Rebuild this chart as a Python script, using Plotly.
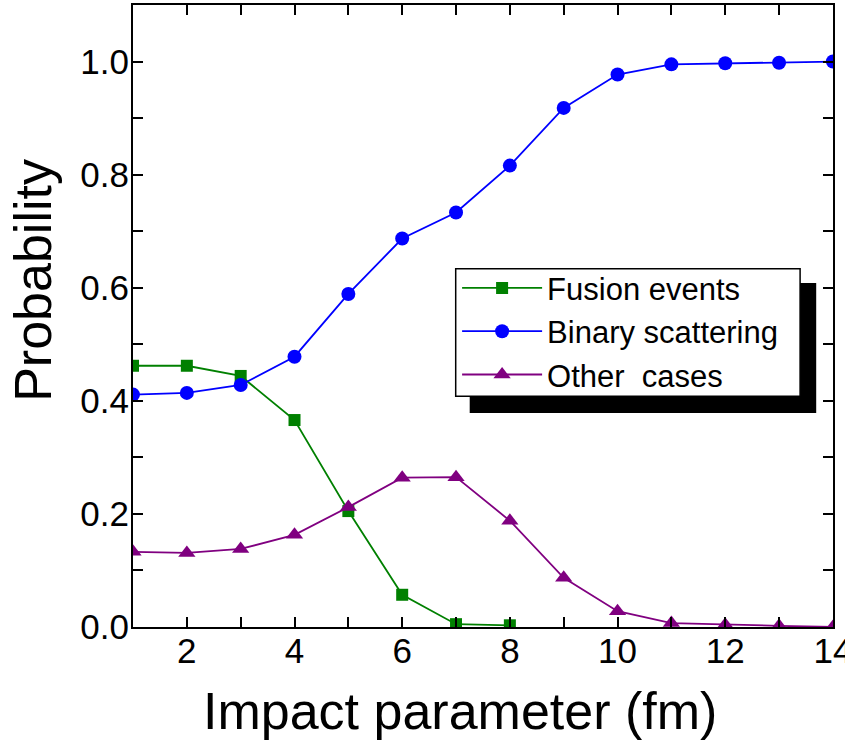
import plotly.graph_objects as go

impact = [1, 2, 3, 4, 5, 6, 7, 8, 9, 10, 11, 12, 13, 14]
fusion_x = [1, 2, 3, 4, 5, 6, 7, 8]
fusion = [0.462, 0.462, 0.444, 0.366, 0.205, 0.057, 0.005, 0.003]
binary = [0.411, 0.414, 0.428, 0.478, 0.589, 0.687, 0.733, 0.816, 0.918, 0.977, 0.995, 0.997, 0.998, 1.0]
other = [0.133, 0.131, 0.138, 0.163, 0.212, 0.264, 0.265, 0.188, 0.087, 0.028, 0.007, 0.004, 0.002, 0.0]

x_ticks = [2, 4, 6, 8, 10, 12, 14]
y_ticks = [0.0, 0.2, 0.4, 0.6, 0.8, 1.0]

names = ["Fusion events", "Binary scattering", "Other\u00a0 cases"]
colors = ["#008000", "#0000FF", "#800080"]
symbols = ["square", "circle", "triangle-up"]

FONT = "Liberation Sans, Arial, sans-serif"

fig = go.Figure()
series = [(fusion_x, fusion), (impact, binary), (impact, other)]
sizes = [12, 14, 15]
for (xs, ys), n, c, s, sz in zip(series, names, colors, symbols, sizes):
    fig.add_trace(go.Scatter(
        x=xs, y=ys, name=n, mode="lines+markers",
        line=dict(color=c, width=1.8),
        marker=dict(color=c, symbol=s, size=sz, line=dict(width=0)),
    ))

axis_common = dict(
    showline=True, linecolor="black", linewidth=2, mirror="ticks",
    ticks="inside", ticklen=10, tickwidth=2, tickcolor="black",
    showgrid=False, zeroline=False, ticklabeloverflow="allow", automargin=False,
    tickfont=dict(family=FONT, size=35, color="black"),
)

fig.update_xaxes(
    range=[1, 14.002], tickvals=x_ticks, ticktext=[str(v) for v in x_ticks],
    minor=dict(tickvals=[1, 3, 5, 7, 9, 11, 13], ticks="inside", ticklen=10, tickwidth=2, tickcolor="black"),
    ticklabelstandoff=-8,
    **axis_common,
)
fig.update_yaxes(
    range=[0, 1.1], tickvals=y_ticks, tickformat=".1f",
    minor=dict(tickvals=[0.1, 0.3, 0.5, 0.7, 0.9], ticks="inside", ticklen=10, tickwidth=2, tickcolor="black"),
    ticklabelstandoff=-5,
    **axis_common,
)

# axis titles as annotations (positioned as in the original)
fig.add_annotation(text="Impact parameter (fm)", xref="paper", yref="paper",
                   x=0.467, y=-0.135, xanchor="center", yanchor="middle", showarrow=False,
                   font=dict(family=FONT, size=52, color="black"))
fig.add_annotation(text="Probability", xref="paper", yref="paper", textangle=-90,
                   x=-0.143, y=0.558, xanchor="center", yanchor="middle", showarrow=False,
                   font=dict(family=FONT, size=52, color="black"))

# legend shadow and box
fig.add_shape(type="rect", xref="paper", yref="paper", x0=0.481, x1=0.976, y0=0.344, y1=0.553,
              fillcolor="black", line=dict(width=0), layer="above")
fig.add_shape(type="rect", xref="paper", yref="paper", x0=0.461, x1=0.953, y0=0.371, y1=0.576,
              fillcolor="white", line=dict(color="black", width=1.5), layer="above")

fig.update_layout(
    width=845, height=743,
    margin=dict(l=133, r=12, t=5, b=116, autoexpand=False),
    plot_bgcolor="white", paper_bgcolor="white",
    showlegend=True,
    legend=dict(x=0.463, y=0.588, xanchor="left", yanchor="top",
                bgcolor="rgba(0,0,0,0)", borderwidth=0,
                font=dict(family=FONT, size=31, color="black"),
                itemwidth=80, tracegroupgap=0),
)

fig.write_html("out.html")
